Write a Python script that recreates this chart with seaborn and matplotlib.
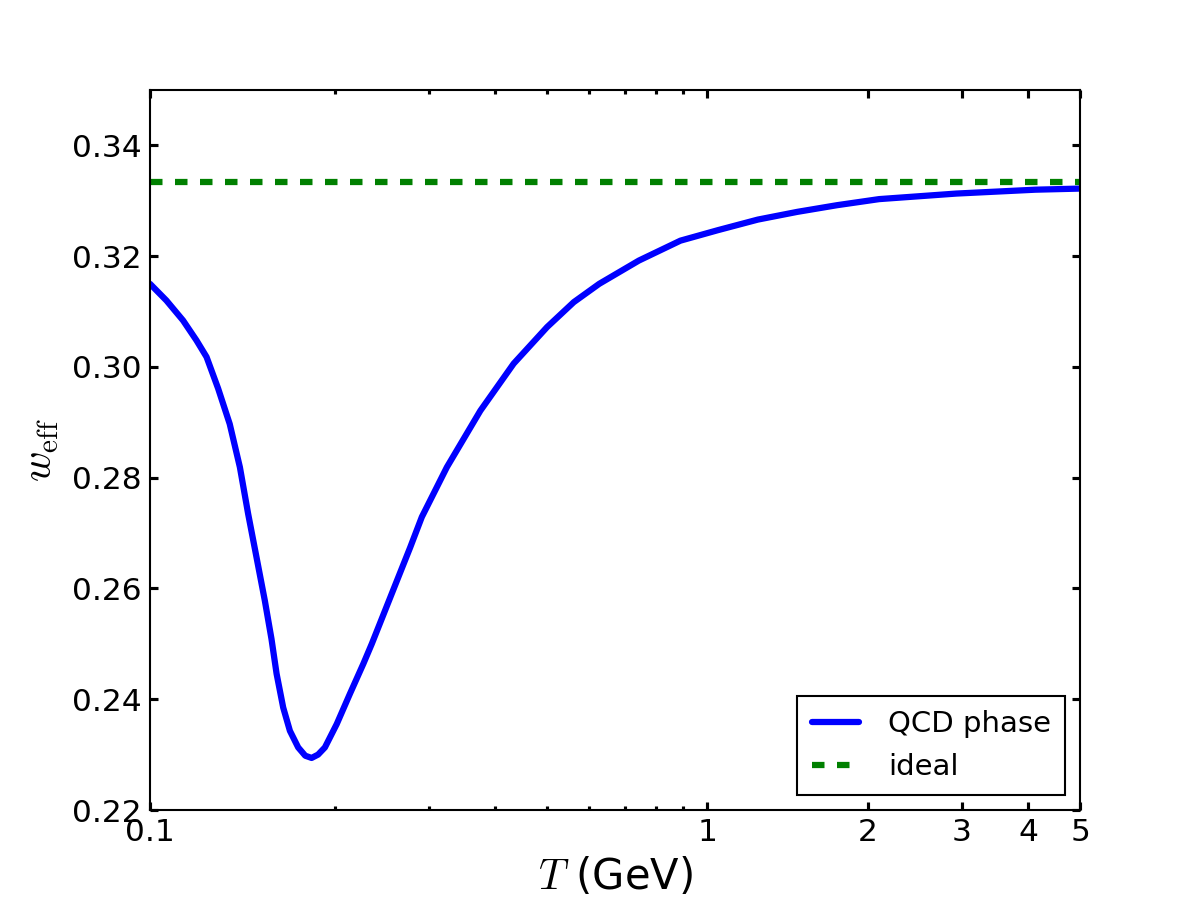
import numpy as np
import pandas as pd
import seaborn as sns
import matplotlib.pyplot as plt
from matplotlib.ticker import NullFormatter

# QCD equation of state
T_gev = [0.090, 0.0966, 0.1038, 0.1100, 0.1149, 0.1208, 0.1270, 0.1327, 0.1375,
         0.1426, 0.1478, 0.1521, 0.1555, 0.1600, 0.1647, 0.1707, 0.1760, 0.1809,
         0.1860, 0.1916, 0.2016, 0.2135, 0.2262, 0.2346, 0.2615, 0.2769, 0.2912,
         0.3245, 0.3750, 0.4330, 0.5003, 0.5614, 0.6266, 0.7436, 0.8900, 1.047,
         1.243, 1.475, 1.750, 2.100, 2.930, 4.120, 5.000]
w_qcd = [0.3150, 0.3120, 0.3084, 0.3048, 0.3018, 0.2961, 0.2897, 0.2819, 0.2735,
         0.2656, 0.2578, 0.2509, 0.2446, 0.2385, 0.2343, 0.2313, 0.2298, 0.2294,
         0.2300, 0.2313, 0.2355, 0.2410, 0.2464, 0.2500, 0.2614, 0.2674, 0.2729,
         0.2819, 0.2921, 0.3006, 0.3072, 0.3117, 0.3150, 0.3192, 0.3228, 0.3247,
         0.3266, 0.3280, 0.3292, 0.3303, 0.3313, 0.3320, 0.3322]

T_ideal = [0.09, 5.0]
w_ideal = [0.3333, 0.3333]

xtick_pos = [0.09, 1, 2, 3, 4, 5]
xtick_labels = ["0.1", "1", "2", "3", "4", "5"]
ytick_pos = [0.22, 0.24, 0.26, 0.28, 0.30, 0.32, 0.34]

sns.set_style("ticks")
plt.rcParams["font.family"] = ["DejaVu Sans"]
plt.rcParams["mathtext.fontset"] = "cm"
plt.rcParams["text.color"] = "black"
plt.rcParams["axes.labelcolor"] = "black"

fig, ax = plt.subplots(figsize=(8, 6), dpi=150)
fig.subplots_adjust(left=0.125, right=0.9, bottom=0.1, top=0.9)

sns.lineplot(x=T_gev, y=w_qcd, color="blue", lw=3, sort=False,
             solid_joinstyle="round", label="QCD phase", ax=ax)
sns.lineplot(x=T_ideal, y=w_ideal, color="green", lw=3, linestyle=(0, (2, 2)),
             label="ideal", ax=ax)

ax.set_xscale("log")
ax.set_xlim(0.09, 5)
ax.set_ylim(0.22, 0.35)
ax.set_xticks(xtick_pos)
ax.set_xticklabels(xtick_labels)
ax.xaxis.set_minor_formatter(NullFormatter())
ax.set_yticks(ytick_pos)
ax.set_yticklabels([f"{v:.2f}" for v in ytick_pos])

for side in ["top", "right", "bottom", "left"]:
    ax.spines[side].set_linewidth(1.0)
    ax.spines[side].set_color("black")
ax.tick_params(which="both", direction="in", top=True, right=True, colors="black")
ax.tick_params(which="major", length=4, width=1.5, labelsize=15, pad=4)
ax.tick_params(which="minor", length=2, width=1.5)

ax.set_xlabel(r"$T$ (GeV)", fontsize=20, labelpad=4, color="black")
ax.set_ylabel(r"$w_{\rm eff}$", fontsize=20, labelpad=5, color="black")

leg = ax.legend(loc="lower right", fontsize=14, fancybox=False, framealpha=1,
                edgecolor="black", handlelength=1.6, handletextpad=1.0,
                borderpad=0.5, labelspacing=0.5, borderaxespad=0.5)
leg.get_frame().set_linewidth(1.0)
for txt in leg.get_texts():
    txt.set_color("black")

fig.savefig("out.png", dpi=150, facecolor="white")
